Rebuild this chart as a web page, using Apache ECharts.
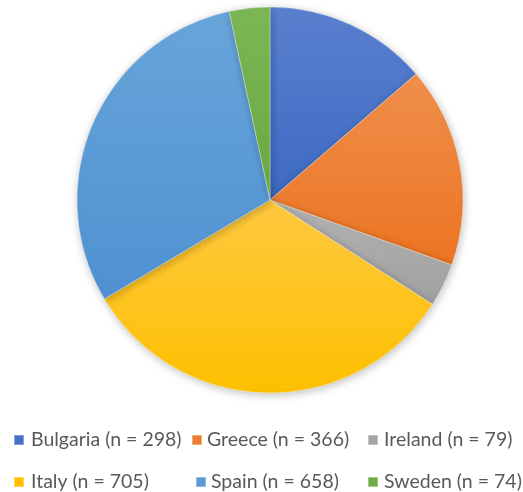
<!DOCTYPE html>
<html>
<head>
<meta charset="utf-8">
<script src="https://cdn.jsdelivr.net/npm/echarts@6/dist/echarts.min.js"></script>
<style>html,body{margin:0;padding:0;background:#fff;}#c{width:523px;height:492px;}</style>
</head>
<body>
<div id="c"></div>
<script>
var categories = ['Bulgaria', 'Greece', 'Ireland', 'Italy', 'Spain', 'Sweden'];
var values = [298, 366, 79, 705, 658, 74];
var labels = ['Bulgaria (n = 298)', 'Greece (n = 366)', 'Ireland (n = 79)', 'Italy (n = 705)', 'Spain (n = 658)', 'Sweden (n = 74)'];
var topColors = ['#5a80cf', '#f08f4c', '#b3b3b3', '#ffc940', '#68a5da', '#7cb756'];
var baseColors = ['#3d6ac2', '#ec7422', '#a0a0a0', '#fdc000', '#4f91d1', '#6aaa40'];
var legendColors = ['#4472C4', '#ED7D31', '#A5A5A5', '#FFC000', '#5B9BD5', '#70AD47'];

var legendPos = [[13, 430, 2], [191, 430, 0], [367, 430, 1], [13, 472, 2], [195, 472, 0], [367, 472, 1]];

var data = categories.map(function (c, i) {
  return {
    name: labels[i],
    value: values[i],
    itemStyle: {
      color: new echarts.graphic.LinearGradient(0, 0, 0, 1, [
        {offset: 0, color: topColors[i]},
        {offset: 1, color: baseColors[i]}
      ])
    }
  };
});

var legends = labels.map(function (l, i) {
  return {
    data: [{name: l, itemStyle: {color: legendColors[i]}}],
    left: legendPos[i][0],
    top: legendPos[i][1],
    itemWidth: 10,
    itemHeight: 10,
    itemGap: 0,
    icon: 'rect',
    selectedMode: false,
    textStyle: {fontFamily: 'Lato', fontSize: 19.5, color: '#595959', padding: [0, 0, 0, legendPos[i][2]]},
    padding: 0
  };
});

var chart = echarts.init(document.getElementById('c'), null, {renderer: 'canvas'});
chart.setOption({
  animation: false,
  backgroundColor: '#ffffff',
  legend: legends,
  series: [{
    type: 'pie',
    center: [270, 200],
    radius: 193,
    startAngle: 90,
    clockwise: true,
    label: {show: false},
    labelLine: {show: false},
    emphasis: {disabled: true},
    itemStyle: {
      borderColor: 'rgba(255,255,255,0.35)',
      borderWidth: 1,
      shadowBlur: 8,
      shadowColor: 'rgba(0,0,0,0.25)',
      shadowOffsetX: 1,
      shadowOffsetY: 2
    },
    data: data
  }]
});
</script>
</body>
</html>
